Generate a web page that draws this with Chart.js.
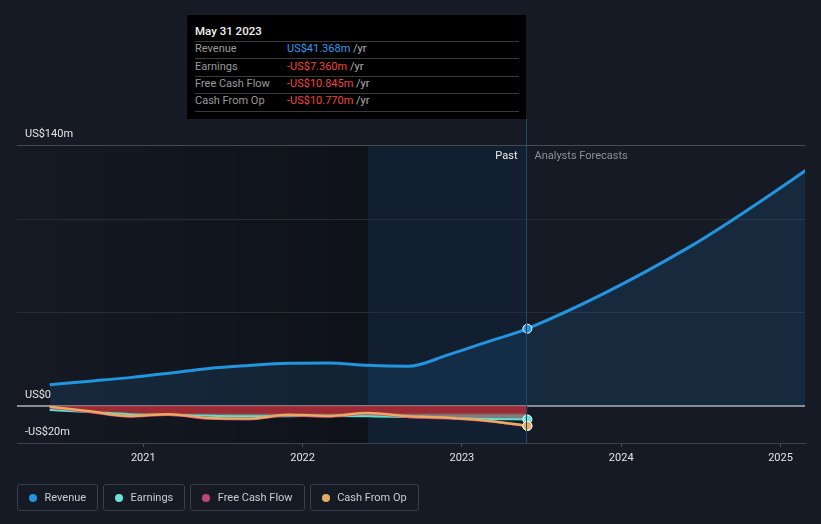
<!DOCTYPE html>
<html>
<head>
<meta charset="utf-8">
<script src="https://cdn.jsdelivr.net/npm/chart.js@4.4.1/dist/chart.umd.min.js"></script>
<style>
  html, body { margin: 0; padding: 0; background: #151a24; }
  body { width: 821px; height: 524px; position: relative; overflow: hidden; font-family: Roboto, "Noto Sans", sans-serif; }
  #c { position: absolute; left: 0; top: 0; }
  .tip { position: absolute; left: 187px; top: 15px; width: 339px; height: 104px; background: #000; }
  .tip .title { position: absolute; left: 8px; top: 9px; font-size: 11.5px; font-weight: 500; color: #f2f2f2; line-height: 14px; }
  .tip .sep { position: absolute; left: 8px; width: 324px; height: 1px; background: #3a3a3a; }
  .tip .row { position: absolute; left: 8px; font-size: 11px; line-height: 14px; color: #9a9a9a; white-space: nowrap; }
  .tip .val { position: absolute; left: 100px; font-size: 11px; line-height: 14px; white-space: nowrap; }
  .tip .blue { color: #2d9cf0; }
  .tip .red { color: #f0463e; }
  .tip .unit { color: #b4b4b4; }
  .legend { position: absolute; left: 17px; top: 484px; display: flex; gap: 5px; }
  .legend .item { height: 25px; border: 1px solid #3a404a; border-radius: 3px; display: flex; align-items: center; padding: 0 11px 0 11px; font-size: 11px; color: #c9cdd3; box-sizing: content-box; }
  .legend .dot { width: 8px; height: 8px; border-radius: 50%; margin-right: 7.5px; }
</style>
</head>
<body>
<canvas id="c" width="821" height="524"></canvas>

<div class="tip">
  <div class="title">May 31 2023</div>
  <div class="sep" style="top:26px"></div>
  <div class="row" style="top:27px">Revenue</div>
  <div class="val" style="top:27px"><span class="blue">US$41.368m</span> <span class="unit">/yr</span></div>
  <div class="sep" style="top:43px"></div>
  <div class="row" style="top:45px">Earnings</div>
  <div class="val" style="top:45px"><span class="red">-US$7.360m</span> <span class="unit">/yr</span></div>
  <div class="sep" style="top:61px"></div>
  <div class="row" style="top:62px">Free Cash Flow</div>
  <div class="val" style="top:62px"><span class="red">-US$10.845m</span> <span class="unit">/yr</span></div>
  <div class="sep" style="top:78px"></div>
  <div class="row" style="top:79px">Cash From Op</div>
  <div class="val" style="top:79px"><span class="red">-US$10.770m</span> <span class="unit">/yr</span></div>
  <div class="sep" style="top:96px"></div>
</div>

<div class="legend">
  <div class="item"><span class="dot" style="background:#2394df"></span>Revenue</div>
  <div class="item"><span class="dot" style="background:#6fe3d3"></span>Earnings</div>
  <div class="item"><span class="dot" style="background:#c2447e"></span>Free Cash Flow</div>
  <div class="item"><span class="dot" style="background:#e5ad64"></span>Cash From Op</div>
</div>

<script>
// ---- data (US$ millions, trailing twelve months) ----
const pastDates = ['2020-05-31','2020-08-31','2020-11-30','2021-02-28','2021-05-31','2021-08-31','2021-11-30','2022-02-28','2022-05-31','2022-08-31','2022-11-30','2023-02-28','2023-05-31'];
const revenue      = [11.3, 13.2, 15.1, 17.4, 20.0, 21.6, 22.8, 23.0, 21.7, 21.2, 27.3, 34.3, 41.368];
const forecastDates = ['2024-05-31','2025-05-31'];
const revenueForecast = [84.5, 141];
const earnings     = [-2.3, -3.3, -4.5, -5.0, -5.4, -5.7, -5.6, -5.5, -5.7, -6.0, -6.6, -7.1, -7.36];
const freeCashFlow = [-0.8, -3.3, -5.8, -4.8, -6.9, -7.2, -5.1, -5.8, -4.2, -6.0, -6.7, -8.2, -10.845];
const cashFromOp   = [-0.5, -3.0, -5.5, -4.5, -6.6, -6.9, -4.8, -5.5, -3.9, -5.7, -6.4, -8.0, -10.77];
const yTickValues  = [-20, 0, 50, 100, 140];
const yTickLabels  = ['-US$20m', 'US$0', '', '', 'US$140m'];
const xTickYears   = [2021, 2022, 2023, 2024, 2025];
const xTickLabels  = ['2021', '2022', '2023', '2024', '2025'];
const highlightStart = '2022-05-31';
const pastEnd = '2023-05-31';
const xMinDate = '2020-03-17';
const xMaxDate = '2025-02-26';

function toYear(s) {
  const [y, m, d] = s.split('-').map(Number);
  const start = Date.UTC(y, 0, 1), end = Date.UTC(y + 1, 0, 1);
  return y + (Date.UTC(y, m - 1, d) - start) / (end - start);
}
const lastIdx = pastDates.length - 1;
const pts = (dates, vals) => dates.map((d, i) => ({ x: toYear(d), y: vals[i] }));
const revData = pts(pastDates.concat(forecastDates), revenue.concat(revenueForecast));
const endPoint = (ctx) => ctx.dataIndex === lastIdx ? 4.5 : 0;

const bgPlugin = {
  id: 'bg',
  beforeDraw(chart) {
    const { ctx, chartArea: a, scales: { x } } = chart;
    const hx = x.getPixelForValue(toYear(highlightStart));
    const px = x.getPixelForValue(toYear(pastEnd));
    ctx.save();
    const g = ctx.createLinearGradient(a.left, 0, hx, 0);
    g.addColorStop(0, 'rgba(0,0,0,0)');
    g.addColorStop(1, 'rgba(0,0,0,0.3)');
    ctx.fillStyle = g;
    ctx.fillRect(a.left, a.top, hx - a.left, a.bottom - a.top);
    ctx.fillStyle = 'rgba(0,0,0,0.3)';
    ctx.fillRect(hx, a.top, px - hx, a.bottom - a.top);
    ctx.fillStyle = 'rgba(30,100,170,0.16)';
    ctx.fillRect(hx, a.top, px - hx, a.bottom - a.top);
    ctx.restore();
  },
  afterDatasetsDraw(chart) {
    const { ctx, chartArea: a, scales: { x } } = chart;
    const px = Math.round(x.getPixelForValue(toYear(pastEnd))) - 0.5;
    ctx.save();
    ctx.strokeStyle = '#1e4a70';
    ctx.lineWidth = 1;
    ctx.beginPath();
    ctx.moveTo(px, 119);
    ctx.lineTo(px, a.bottom);
    ctx.stroke();
    ctx.font = '11px Roboto, "Noto Sans", sans-serif';
    ctx.textBaseline = 'middle';
    ctx.textAlign = 'right';
    ctx.fillStyle = '#ececec';
    ctx.fillText('Past', px - 9, a.top + 11);
    ctx.textAlign = 'left';
    ctx.fillStyle = '#8b9099';
    ctx.fillText('Analysts Forecasts', px + 8, a.top + 11);
    ctx.restore();
  }
};

new Chart(document.getElementById('c'), {
  type: 'line',
  data: {
    datasets: [
      { label: 'Revenue', data: revData, borderColor: '#2394df', borderWidth: 3,
        backgroundColor: 'rgba(35,148,223,0.13)', fill: 'origin', cubicInterpolationMode: 'monotone',
        pointRadius: endPoint, pointBackgroundColor: '#2394df', pointBorderColor: '#ffffff', pointBorderWidth: 1, order: 0 },
      { label: 'Cash From Op', data: pts(pastDates, cashFromOp), borderColor: '#e9ab5f', borderWidth: 2.5,
        fill: false, cubicInterpolationMode: 'monotone',
        pointRadius: endPoint, pointBackgroundColor: '#e9ab5f', pointBorderColor: '#ffffff', pointBorderWidth: 1, order: 1 },
      { label: 'Free Cash Flow', data: pts(pastDates, freeCashFlow), borderColor: '#c63f7c', borderWidth: 2.5,
        fill: false, cubicInterpolationMode: 'monotone',
        pointRadius: endPoint, pointBackgroundColor: '#c63f7c', pointBorderColor: '#ffffff', pointBorderWidth: 1, order: 2 },
      { label: 'Earnings', data: pts(pastDates, earnings), borderColor: '#5ee0cf', borderWidth: 2,
        fill: 'origin', cubicInterpolationMode: 'monotone',
        backgroundColor: (ctx) => {
          const c = ctx.chart; const y = c.scales.y;
          if (!y || !c.chartArea) return 'rgba(165,45,55,0.85)';
          const y0 = y.getPixelForValue(0), y1 = y.getPixelForValue(-7.5);
          const g = c.ctx.createLinearGradient(0, y0, 0, y1);
          g.addColorStop(0, 'rgba(170,45,55,0.9)');
          g.addColorStop(0.52, 'rgba(170,45,55,0.9)');
          g.addColorStop(0.68, 'rgba(160,160,155,0.75)');
          g.addColorStop(1, 'rgba(160,160,155,0.75)');
          return g;
        },
        pointRadius: endPoint, pointBackgroundColor: '#6fe3d3', pointBorderColor: '#ffffff', pointBorderWidth: 1, order: 3 }
    ]
  },
  options: {
    responsive: false,
    animation: false,
    events: [],
    layout: { padding: { top: 145, left: 17, right: 16, bottom: 0 } },
    plugins: { legend: { display: false }, tooltip: { enabled: false } },
    scales: {
      x: {
        type: 'linear', position: 'bottom',
        min: toYear(xMinDate), max: toYear(xMaxDate),
        afterBuildTicks: (s) => { s.ticks = xTickYears.map(v => ({ value: v })); },
        afterFit: (s) => { s.height = 81; },
        ticks: { callback: (v) => xTickLabels[xTickYears.indexOf(v)] ?? '', color: '#e4e4e4',
                 font: { family: 'Roboto', size: 11 }, padding: 5, maxRotation: 0, autoSkip: false },
        grid: { drawOnChartArea: false, drawTicks: true, tickLength: 4, color: '#4a505a' },
        border: { display: true, color: '#3d424b', width: 1 }
      },
      y: {
        type: 'linear', position: 'left', min: -20, max: 140,
        afterBuildTicks: (s) => { s.ticks = yTickValues.map(v => ({ value: v })); },
        afterFit: (s) => { s.width = 0; },
        ticks: { mirror: true, padding: 8, labelOffset: -11, color: '#e4e4e4',
                 font: { family: 'Roboto', size: 11 },
                 callback: (v) => yTickLabels[yTickValues.indexOf(v)] ?? '' },
        grid: { drawTicks: false,
                color: (ctx) => { const v = ctx.tick && ctx.tick.value;
                  if (v === 0) return '#8a8d93'; if (v === 140) return '#454a53'; if (v === -20) return 'rgba(0,0,0,0)'; return '#272d37'; },
                lineWidth: (ctx) => (ctx.tick && ctx.tick.value === 0) ? 2 : 1 },
        border: { display: false }
      }
    }
  },
  plugins: [bgPlugin]
});
</script>
</body>
</html>
